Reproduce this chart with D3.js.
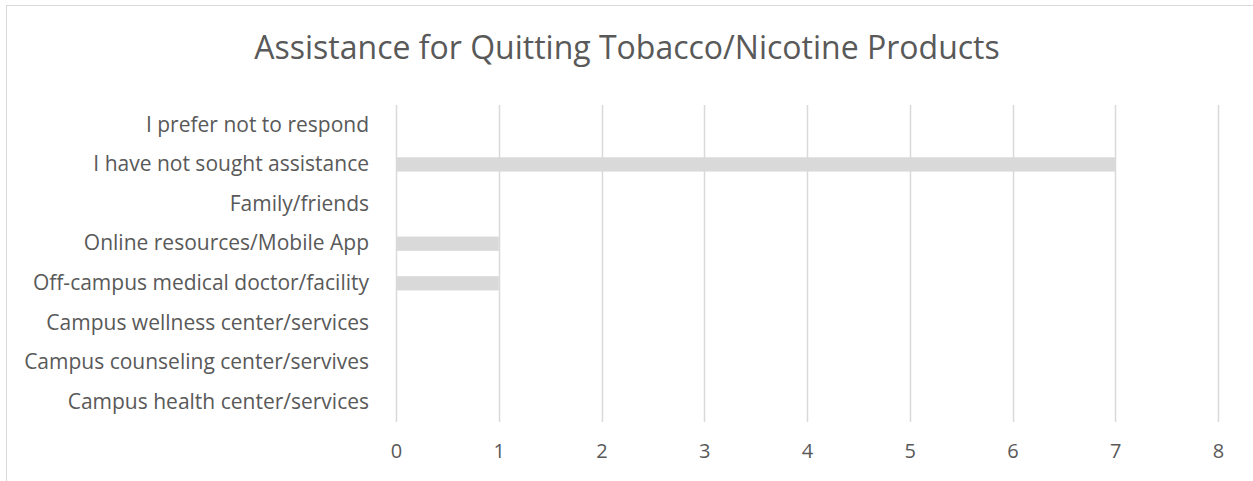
<!DOCTYPE html>
<html>
<head>
<meta charset="utf-8">
<script src="https://cdn.jsdelivr.net/npm/d3@7"></script>
<style>
  body { margin: 0; background: #fff; }
  svg { display: block; font-family: "Open Sans", Lato, sans-serif; }
</style>
</head>
<body>
<div id="chart"></div>
<script>
// categories top to bottom, as they appear
const categories = [
  "I prefer not to respond",
  "I have not sought assistance",
  "Family/friends",
  "Online resources/Mobile App",
  "Off-campus medical doctor/facility",
  "Campus wellness center/services",
  "Campus counseling center/servives",
  "Campus health center/services"
];
const counts = [0, 7, 0, 1, 1, 0, 0, 0];
const xTicks = [0, 1, 2, 3, 4, 5, 6, 7, 8];
const title = "Assistance for Quitting Tobacco/Nicotine Products";

const width = 1253, height = 481;
const margin = { top: 105, right: 35, bottom: 59, left: 396 };
const grey = "#d9d9d9", textColor = "#595959";

const svg = d3.select("#chart")
  .append("svg")
  .attr("width", width)
  .attr("height", height);

// chart area border (clipped on right/bottom like the original)
svg.append("rect")
  .attr("x", 6.5).attr("y", 5.5)
  .attr("width", width + 10).attr("height", height + 10)
  .attr("fill", "none")
  .attr("stroke", grey);

svg.append("text")
  .attr("x", 627).attr("y", 59)
  .attr("text-anchor", "middle")
  .attr("fill", textColor)
  .attr("font-size", 32)
  .text(title);

const x = d3.scaleLinear()
  .domain([0, 8])
  .range([margin.left, width - margin.right]);

const y = d3.scaleBand()
  .domain(categories)
  .range([margin.top, height - margin.bottom])
  .paddingInner(0.64)
  .paddingOuter(0.32);

// vertical gridlines
svg.append("g")
  .selectAll("line")
  .data(xTicks)
  .enter().append("line")
  .attr("x1", d => Math.round(x(d)) + 0.5)
  .attr("x2", d => Math.round(x(d)) + 0.5)
  .attr("y1", margin.top)
  .attr("y2", height - margin.bottom)
  .attr("stroke", grey)
  .attr("stroke-width", 1.5);

// bars
svg.append("g")
  .selectAll("rect")
  .data(categories)
  .enter().append("rect")
  .attr("x", x(0))
  .attr("y", d => y(d))
  .attr("width", (d, i) => x(counts[i]) - x(0))
  .attr("height", y.bandwidth())
  .attr("fill", grey);

// x tick labels
const xAxis = svg.append("g")
  .attr("transform", `translate(0,${height - margin.bottom})`)
  .call(d3.axisBottom(x).tickValues(xTicks).tickSize(0).tickPadding(22));
xAxis.select(".domain").remove();
xAxis.selectAll("text")
  .attr("font-size", 20)
  .attr("font-family", "'Open Sans', sans-serif")
  .attr("fill", textColor);

// category labels
const yAxis = svg.append("g")
  .attr("transform", `translate(${margin.left},0)`)
  .call(d3.axisLeft(y).tickSize(0).tickPadding(27));
yAxis.select(".domain").remove();
yAxis.selectAll("text")
  .attr("font-size", 21)
  .attr("font-family", "'Open Sans', sans-serif")
  .attr("fill", textColor);
</script>
</body>
</html>
